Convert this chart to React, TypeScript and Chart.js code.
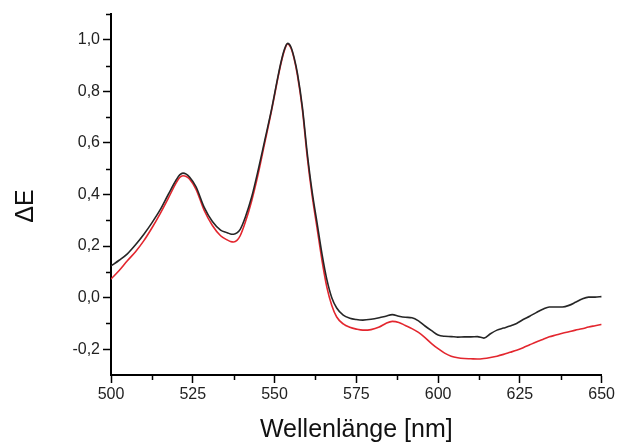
import React, { useEffect, useRef } from "react";
import { Chart, registerables } from "chart.js";

Chart.register(...registerables);

const WAVELENGTHS = [
  500, 502.5, 505, 507.5, 510, 512.5, 515, 517.5, 520, 521, 522, 523, 524, 526, 528.5, 531, 533.5, 535.5,
  536.5, 537.5, 538.5, 539.5, 541, 543, 545, 547, 549, 551, 552, 553, 554, 555, 556, 557, 558.5, 560,
  561.5, 563, 564.5, 566, 567.5, 569, 571, 573, 575, 577, 579.5, 582, 584, 586, 588, 590, 592, 594, 596,
  598, 600, 602, 604, 606, 608, 610, 612, 614, 616, 618, 620, 622, 624, 626, 628, 630, 632, 634, 636,
  638, 640, 642, 644, 646, 648, 650,
];

const SERIES_BLACK = [
  0.123, 0.145, 0.17, 0.205, 0.245, 0.29, 0.34, 0.4, 0.458, 0.476, 0.483, 0.479, 0.468, 0.43, 0.35, 0.295,
  0.262, 0.252, 0.247, 0.246, 0.251, 0.265, 0.31, 0.39, 0.495, 0.61, 0.725, 0.855, 0.915, 0.962, 0.986,
  0.972, 0.93, 0.87, 0.74, 0.56, 0.41, 0.29, 0.17, 0.07, 0.0, -0.04, -0.068, -0.08, -0.085, -0.087, -0.084,
  -0.078, -0.072, -0.066, -0.072, -0.076, -0.078, -0.09, -0.11, -0.128, -0.145, -0.15, -0.151, -0.153,
  -0.152, -0.152, -0.151, -0.157, -0.14, -0.126, -0.118, -0.11, -0.1, -0.085, -0.072, -0.058, -0.045,
  -0.036, -0.036, -0.036, -0.03, -0.018, -0.005, 0.002, 0.002, 0.004,
];

const SERIES_RED = [
  0.072, 0.105, 0.143, 0.178, 0.22, 0.27, 0.325, 0.385, 0.447, 0.466, 0.473, 0.47, 0.46, 0.42, 0.338, 0.28,
  0.24, 0.224, 0.218, 0.216, 0.222, 0.24, 0.29, 0.375, 0.48, 0.6, 0.72, 0.85, 0.91, 0.958, 0.984, 0.968,
  0.925, 0.862, 0.73, 0.545, 0.395, 0.27, 0.145, 0.04, -0.03, -0.075, -0.102, -0.115, -0.122, -0.126,
  -0.124, -0.114, -0.1, -0.092, -0.096, -0.108, -0.12, -0.135, -0.155, -0.178, -0.198, -0.215, -0.227,
  -0.233, -0.236, -0.237, -0.238, -0.236, -0.232, -0.227, -0.22, -0.212, -0.204, -0.194, -0.183, -0.172,
  -0.162, -0.152, -0.145, -0.138, -0.132, -0.126, -0.121, -0.114, -0.109, -0.104,
];

const X_MAJOR_TICKS = [500, 525, 550, 575, 600, 625, 650];
const X_MINOR_TICKS = [512.5, 537.5, 562.5, 587.5, 612.5, 637.5];
const Y_MAJOR_TICKS = [-0.2, 0, 0.2, 0.4, 0.6, 0.8, 1.0];
const Y_MINOR_TICKS = [-0.1, 0.1, 0.3, 0.5, 0.7, 0.9, 1.1];

const X_TITLE = "Wellenlänge [nm]";
const Y_TITLE = "ΔE";

const FONT = "'Liberation Sans', Arial, sans-serif";

const extrasPlugin = {
  id: "extras",
  afterDraw(chart: any) {
    const { ctx, chartArea, scales } = chart;
    const xs = scales.x;
    const ys = scales.y;
    ctx.save();
    ctx.strokeStyle = "#000";
    ctx.lineWidth = 1.5;
    ctx.beginPath();
    X_MINOR_TICKS.forEach((v) => {
      const px = Math.round(xs.getPixelForValue(v)) + 0.5;
      ctx.moveTo(px, chartArea.bottom);
      ctx.lineTo(px, chartArea.bottom + 5);
    });
    Y_MINOR_TICKS.forEach((v) => {
      const py = Math.round(ys.getPixelForValue(v)) + 0.5;
      ctx.moveTo(chartArea.left - 5, py);
      ctx.lineTo(chartArea.left, py);
    });
    ctx.stroke();

    ctx.fillStyle = "#111";
    ctx.font = `25px ${FONT}`;
    ctx.textAlign = "center";
    ctx.textBaseline = "alphabetic";
    ctx.fillText(X_TITLE, (chartArea.left + chartArea.right) / 2, 437);

    ctx.translate(33, 206);
    ctx.rotate(-Math.PI / 2);
    ctx.fillText(Y_TITLE, 0, 0);
    ctx.restore();
  },
};

const fmt = (v: number) => v.toFixed(1).replace(".", ",");

export default function App() {
  const ref = useRef<HTMLCanvasElement | null>(null);

  useEffect(() => {
    if (!ref.current) return;
    const chart = new Chart(ref.current, {
      type: "line",
      data: {
        datasets: [
          {
            label: "black",
            data: WAVELENGTHS.map((x, i) => ({ x, y: SERIES_BLACK[i] })),
            borderColor: "#262626",
            borderWidth: 1.6,
            pointRadius: 0,
            cubicInterpolationMode: "monotone",
          },
          {
            label: "red",
            data: WAVELENGTHS.map((x, i) => ({ x, y: SERIES_RED[i] })),
            borderColor: "#e3262e",
            borderWidth: 1.6,
            pointRadius: 0,
            cubicInterpolationMode: "monotone",
          },
        ],
      },
      options: {
        animation: false,
        responsive: false,
        devicePixelRatio: 1,
        layout: { padding: { left: 0, top: 14, right: 14, bottom: 0 } },
        plugins: { legend: { display: false }, tooltip: { enabled: false } },
        scales: {
          x: {
            type: "linear",
            min: 500,
            max: 650,
            afterFit: (s: any) => {
              s.height = 67;
            },
            afterBuildTicks: (s: any) => {
              s.ticks = X_MAJOR_TICKS.map((value) => ({ value }));
            },
            grid: {
              drawOnChartArea: false,
              drawTicks: true,
              tickLength: 8,
              tickColor: "#000",
              tickWidth: 1.5,
            },
            border: { display: true, color: "#000", width: 2 },
            ticks: {
              color: "#222",
              font: { family: FONT, size: 16 },
              padding: 2,
              maxRotation: 0,
              autoSkip: false,
              callback: (v: any) => String(v),
            },
          },
          y: {
            type: "linear",
            min: -0.3,
            max: 1.1,
            afterFit: (s: any) => {
              s.width = 111;
            },
            afterBuildTicks: (s: any) => {
              s.ticks = Y_MAJOR_TICKS.map((value) => ({ value }));
            },
            grid: {
              drawOnChartArea: false,
              drawTicks: true,
              tickLength: 8,
              tickColor: "#000",
              tickWidth: 1.5,
            },
            border: { display: true, color: "#000", width: 2 },
            ticks: {
              color: "#222",
              font: { family: FONT, size: 16 },
              padding: 3,
              autoSkip: false,
              callback: (v: any) => fmt(Number(v)),
            },
          },
        },
      },
      plugins: [extrasPlugin],
    } as any);
    return () => chart.destroy();
  }, []);

  return (
    <div style={{ position: "fixed", left: 0, top: 0, width: 617, height: 442, background: "#fff" }}>
      <canvas ref={ref} width={617} height={442} style={{ width: 617, height: 442, display: "block" }} />
    </div>
  );
}
